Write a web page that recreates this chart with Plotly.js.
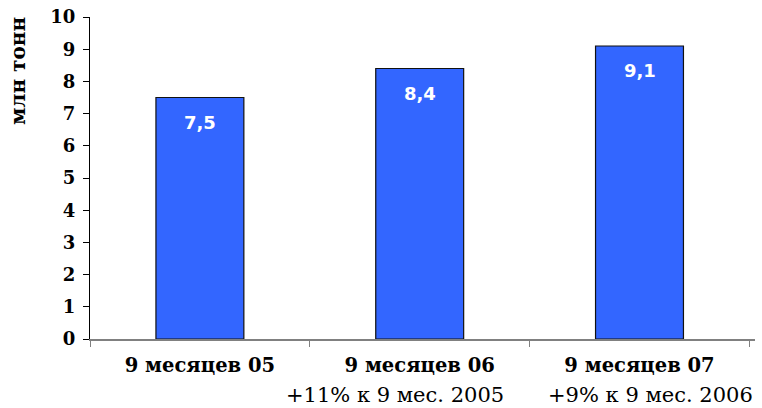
<!DOCTYPE html>
<html>
<head>
<meta charset="utf-8">
<script src="https://cdn.plot.ly/plotly-3.0.1.min.js"></script>
<style>html,body{margin:0;padding:0;background:#fff;}#chart{width:762px;height:408px;}</style>
</head>
<body>
<div id="chart"></div>
<script>
const categories = ["9 месяцев 05", "9 месяцев 06", "9 месяцев 07"];
const values = [7.5, 8.4, 9.1];
const valueLabels = ["7,5", "8,4", "9,1"];
const growthLabels = ["", "+11% к 9 мес. 2005", "+9% к 9 мес. 2006"];
const yTitle = "млн тонн";

const boldFont = "DejaVu Serif, serif";
// horizontal nudges of the growth captions (layout only)
const growthNudge = [0, -25, 11];

const annotations = [];
categories.forEach((c, i) => {
  annotations.push({
    x: c, y: values[i], xref: "x", yref: "y",
    text: valueLabels[i], showarrow: false,
    yanchor: "middle", yshift: -25,
    font: {family: "DejaVu Sans, sans-serif", size: 18, color: "#ffffff", weight: "bold"}
  });
  if (growthLabels[i]) {
    annotations.push({
      x: c, y: 0, xref: "x", yref: "paper",
      text: growthLabels[i], showarrow: false,
      yanchor: "middle", yshift: -56, xshift: growthNudge[i],
      font: {family: "DejaVu Serif, serif", size: 21, color: "#000"}
    });
  }
});
const plotTop = 17, plotBottom = 339;
annotations.push({
  x: 0, y: (plotBottom - 71) / (plotBottom - plotTop), xref: "paper", yref: "paper",
  xanchor: "center", yanchor: "middle", xshift: -72,
  text: yTitle, showarrow: false, textangle: -90,
  font: {family: boldFont, size: 20, color: "#000", weight: "bold"}
});

const trace = {
  type: "bar",
  x: categories,
  y: values,
  width: 0.4,
  marker: {color: "#3366FF", line: {color: "#111111", width: 1.2}},
  hoverinfo: "none"
};

const layout = {
  width: 762, height: 408,
  margin: {l: 90, r: 7, t: 17, b: 69},
  paper_bgcolor: "#fff", plot_bgcolor: "#fff",
  showlegend: false,
  xaxis: {
    type: "category", automargin: false,
    showline: true, linecolor: "#808080", linewidth: 2,
    ticks: "outside", tickson: "boundaries", ticklen: 6, tickcolor: "#808080", tickwidth: 1,
    ticklabelstandoff: 8,
    tickfont: {family: boldFont, size: 19.5, color: "#000", weight: "bold"},
    showgrid: false, zeroline: false, fixedrange: true
  },
  yaxis: {
    range: [0, 10], dtick: 1, tick0: 0, automargin: false,
    showline: true, linecolor: "#000", linewidth: 1,
    ticks: "outside", ticklen: 6, tickcolor: "#000",
    ticklabelstandoff: 4,
    tickfont: {family: boldFont, size: 18, color: "#000", weight: "bold"},
    showgrid: false, zeroline: false, fixedrange: true
  },
  annotations: annotations
};

Plotly.newPlot("chart", [trace], layout, {displayModeBar: false, staticPlot: true});
</script>
</body>
</html>
